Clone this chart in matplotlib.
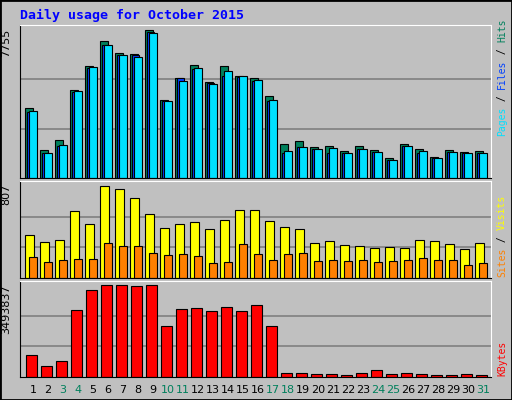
import matplotlib
matplotlib.use("Agg")
import matplotlib.pyplot as plt
import numpy as np

days = [str(d) for d in range(1, 32)]
weekend = [3, 4, 10, 11, 17, 18, 24, 25, 31]
hits = [3668, 1457, 1983, 4615, 5879, 7195, 6564, 6511, 7755, 4089, 5247, 5932, 5037, 5879, 5353, 5247,
        4300, 1772, 1930, 1615, 1667, 1404, 1667, 1457, 1035, 1772, 1509, 1088, 1457, 1351, 1404]
files = [3480, 1300, 1670, 4510, 5790, 6980, 6460, 6460, 7650, 4030, 5260, 5720, 4980, 5320, 5300, 5090,
         4010, 1300, 1620, 1510, 1330, 1300, 1510, 1350, 930, 1670, 1330, 1040, 1350, 1300, 1300]
pages = [3510, 1300, 1720, 4560, 5830, 6980, 6460, 6350, 7620, 4040, 5090, 5770, 4930, 5620, 5350, 5140,
         4090, 1400, 1615, 1510, 1560, 1300, 1510, 1350, 930, 1670, 1400, 1040, 1350, 1300, 1300]
visits = [379, 318, 335, 588, 475, 807, 781, 702, 562, 440, 475, 492, 431, 510, 597, 597,
          501, 449, 431, 309, 326, 291, 283, 265, 274, 265, 335, 326, 300, 256, 309]
sites = [186, 143, 160, 169, 169, 309, 283, 283, 221, 204, 213, 195, 134, 143, 300, 213,
         160, 213, 221, 151, 160, 151, 160, 143, 151, 160, 178, 160, 160, 117, 134]
kbytes = [828800, 433500, 624800, 2537400, 3302500, 3493837, 3493837, 3455500, 3493837, 1925400,
          2575700, 2614000, 2499200, 2652200, 2499200, 2728700, 1925400, 165800, 165800, 127500,
          127500, 89300, 165800, 280500, 127500, 165800, 127500, 89300, 89300, 127500, 89300]

W, H = 512, 400
bg = "#C0C0C0"
fig = plt.figure(figsize=(W / 100, H / 100), dpi=100, facecolor=bg)
mono = "DejaVu Sans Mono"

def mkax(y0, y1):
    ax = fig.add_axes([20 / W, 1 - y1 / H, (491 - 20) / W, (y1 - y0) / H])
    ax.set_facecolor(bg)
    # 15 px per day, first bar starts 5 px into the panel
    ax.set_xlim(-5 / 15, 466 / 15)
    ax.set_xticks([])
    ax.set_yticks([])
    for s in ax.spines.values():
        s.set_color("white")
    ax.spines["left"].set_color("black")
    ax.spines["bottom"].set_color("black")
    return ax

x = np.arange(31)

ax1 = mkax(25, 178)
ax1.set_ylim(0, 7755 * 152 / 147)
for g in (1 / 3, 2 / 3):
    ax1.axhline(7755 * g, color="#808080", lw=1.2, zorder=0)
ax1.bar(x, hits, 0.5, align="edge", color="#00805C", edgecolor="black", lw=0.8)
ax1.bar(x + 0.12, files, 0.5, align="edge", color="#0040FF", edgecolor="black", lw=0.8)
ax1.bar(x + 0.25, pages, 0.53, align="edge", color="#00E0FF", edgecolor="black", lw=0.8)
ax1.text(-0.018, 1 - 4 / 152, "7755", transform=ax1.transAxes, rotation=90, ha="right", va="top",
         fontsize=8)

ax2 = mkax(181, 278)
ax2.set_ylim(0, 807 * 97 / 92)
for g in (1 / 3, 2 / 3):
    ax2.axhline(807 * g, color="#808080", lw=1.2, zorder=0)
ax2.bar(x, visits, 0.58, align="edge", color="#FFFF00", edgecolor="black", lw=0.8)
ax2.bar(x + 0.25, sites, 0.53, align="edge", color="#FF8000", edgecolor="black", lw=0.8)
ax2.text(-0.018, 1 - 3 / 97, "807", transform=ax2.transAxes, rotation=90, ha="right", va="top",
         fontsize=8)

ax3 = mkax(281, 377)
ax3.set_ylim(0, 3493837 * 95 / 91)
for g in (1 / 3, 2 / 3):
    ax3.axhline(3493837 * g, color="#808080", lw=1.2, zorder=0)
ax3.bar(x + 0.07, kbytes, 0.7, align="edge", color="#FF0000", edgecolor="black", lw=0.8)
ax3.text(-0.018, 1 - 3 / 96, "3493837", transform=ax3.transAxes, rotation=90, ha="right", va="top",
         fontsize=8)

for i, d in enumerate(days):
    c = "#00805C" if int(d) in weekend else "black"
    ax3.text(i + 0.53, -0.08, d, transform=ax3.get_xaxis_transform(), ha="center", va="top",
             fontsize=8, color=c)

fig.text(20 / W, 1 - 15 / H, "Daily usage for October 2015", color="#0000FF", fontsize=9.5,
         fontweight="bold", family=mono, va="center")

SFS = 7
adv = 0.602 * SFS * 100 / 72

def side(y_start, parts):
    # rotated labels stacked from bottom to top
    yy = y_start
    for txt, col in parts:
        fig.text(502 / W, 1 - yy / H, txt, rotation=90, color=col, fontsize=SFS, family=mono,
                 ha="center", va="bottom")
        yy -= len(txt) * adv

side(136, [("Pages", "#00E0FF"), (" / ", "black"), ("Files", "#0040FF"), (" / ", "black"), ("Hits", "#00805C")])
side(277, [("Sites", "#FF8000"), (" / ", "black"), ("Visits", "#FFFF00")])
side(376, [("KBytes", "#FF0000")])

fig.patches.append(plt.Rectangle((0, 0), 1, 1, transform=fig.transFigure, fill=False,
                                 edgecolor="black", lw=2))
fig.savefig("out.png", dpi=100, facecolor=bg)
